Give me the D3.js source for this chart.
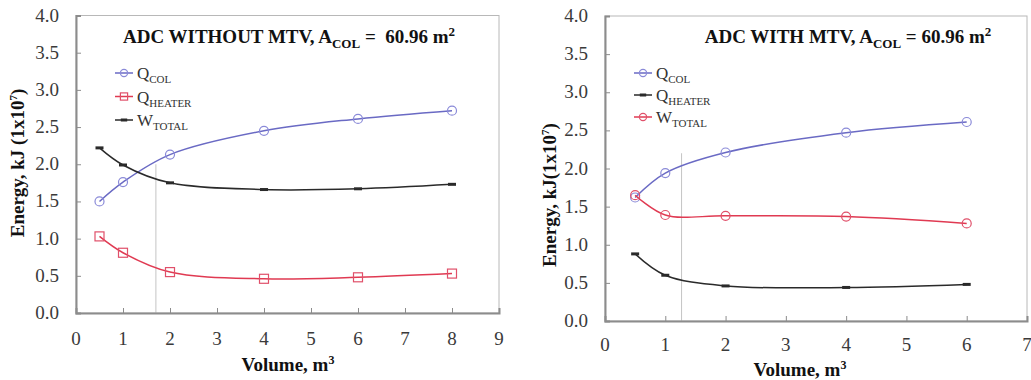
<!DOCTYPE html>
<html>
<head>
<meta charset="utf-8">
<script src="https://cdn.jsdelivr.net/npm/d3@7"></script>
<style>
  html, body { margin: 0; padding: 0; background: #fff; }
  svg { display: block; }
  svg text, svg tspan { font-family: "Liberation Serif", "Times New Roman", serif !important; }
</style>
</head>
<body>
<svg id="chart" width="1031" height="380" font-family="Liberation Serif"></svg>
<script>
// ---- data: panel A (without MTV) ----
const volumeA = [0.5, 1, 2, 4, 6, 8];
const qColA = [1.50, 1.76, 2.13, 2.45, 2.61, 2.72];
const qHeaterA = [1.03, 0.81, 0.55, 0.46, 0.48, 0.53];
const wTotalA = [2.22, 1.99, 1.75, 1.66, 1.67, 1.73];
const xTicksA = [0, 1, 2, 3, 4, 5, 6, 7, 8, 9];

// ---- data: panel B (with MTV) ----
const volumeB = [0.5, 1, 2, 4, 6];
const qColB = [1.62, 1.94, 2.21, 2.47, 2.61];
const qHeaterB = [0.88, 0.60, 0.46, 0.44, 0.48];
const wTotalB = [1.65, 1.39, 1.38, 1.37, 1.28];
const xTicksB = [0, 1, 2, 3, 4, 5, 6, 7];

const yTicks = [0, 0.5, 1.0, 1.5, 2.0, 2.5, 3.0, 3.5, 4.0];

const FONT = '"Liberation Serif"';
const BLUE = "#6a6ac4", BLUE_M = "#8a8ad8";
const RED = "#e03a52", RED_M = "#e0506a";
const BLACK = "#2a2a2a";
const AXIS = "#8c8c8c";
const TICKTXT = "#3a3a3a";

const svg = d3.select("#chart");

function label(sel) {
  return sel.append("text").style("font-family", FONT, "important");
}

function drawPanel(cfg) {
  const x = d3.scaleLinear().domain([0, cfg.xMax]).range([cfg.left, cfg.right]);
  const y = d3.scaleLinear().domain([0, 4]).range([cfg.bottom, cfg.top]);
  const g = svg.append("g");

  // frame
  g.append("rect")
    .attr("x", cfg.left).attr("y", cfg.top)
    .attr("width", cfg.right - cfg.left).attr("height", cfg.bottom - cfg.top)
    .attr("fill", "none").attr("stroke", "#b8b8b8").attr("stroke-width", 1);

  // reference line
  g.append("line")
    .attr("x1", x(cfg.refX)).attr("x2", x(cfg.refX))
    .attr("y1", y(cfg.refTop)).attr("y2", cfg.bottom)
    .attr("stroke", "#c4c4c4").attr("stroke-width", 1);

  // axes with inward ticks
  const yAxis = d3.axisRight(y).tickValues(yTicks).tickSize(5).tickFormat("");
  g.append("g").attr("transform", `translate(${cfg.left},0)`).call(yAxis)
    .call(s => { s.select(".domain").attr("stroke", AXIS).attr("stroke-width", 2);
                 s.selectAll(".tick line").attr("stroke", AXIS); });
  const xAxis = d3.axisTop(x).tickValues(cfg.xTicks).tickSize(5).tickFormat("");
  g.append("g").attr("transform", `translate(0,${cfg.bottom})`).call(xAxis)
    .call(s => { s.select(".domain").attr("stroke", AXIS).attr("stroke-width", 2);
                 s.selectAll(".tick line").attr("stroke", AXIS); });

  // tick labels
  g.selectAll(".ylab").data(yTicks).join("text")
    .style("font-family", FONT, "important")
    .attr("x", cfg.left - 17).attr("y", d => y(d) + 6)
    .attr("text-anchor", "end").attr("font-size", 19).attr("fill", TICKTXT)
    .text(d => d.toFixed(1));
  g.selectAll(".xlab").data(cfg.xTicks).join("text")
    .style("font-family", FONT, "important")
    .attr("x", d => x(d)).attr("y", cfg.bottom + cfg.xLabDy)
    .attr("text-anchor", "middle").attr("font-size", 19).attr("fill", TICKTXT)
    .text(d => d);

  // axis titles
  const xt = label(g)
    .attr("x", cfg.xTitleX).attr("y", cfg.xTitleY)
    .attr("text-anchor", "middle").attr("font-size", 19).attr("font-weight", "bold").attr("fill", "#111");
  xt.append("tspan").text("Volume, m");
  xt.append("tspan").attr("dy", -7).attr("font-size", 12).text("3");

  const yt = label(g)
    .attr("transform", `translate(${cfg.yTitleX},${cfg.yTitleY}) rotate(-90)`)
    .attr("text-anchor", "middle").attr("font-size", 19).attr("font-weight", "bold").attr("fill", "#111");
  yt.append("tspan").text(cfg.yTitle);
  yt.append("tspan").attr("dy", -7).attr("font-size", 11).text("7");
  yt.append("tspan").attr("dy", 7).text(")");

  // title
  const tt = label(g)
    .attr("x", cfg.titleX).attr("y", 43)
    .attr("text-anchor", "middle").attr("font-size", 19).attr("font-weight", "bold").attr("fill", "#111")
    .attr("xml:space", "preserve");
  tt.append("tspan").text(cfg.titleMain + "A");
  tt.append("tspan").attr("dy", 5).attr("font-size", 13).text("COL");
  tt.append("tspan").attr("dy", -5).text(cfg.titleEq);
  tt.append("tspan").attr("dy", -7).attr("font-size", 13).text("2");

  const line = d3.line().x(d => x(d[0])).y(d => y(d[1])).curve(d3.curveCatmullRom.alpha(0.5));

  cfg.series.forEach(s => {
    const pts = cfg.vol.map((v, i) => [v, s.values[i]]);
    g.append("path").datum(pts).attr("d", line)
      .attr("fill", "none").attr("stroke", s.color).attr("stroke-width", 1.5);
    drawMarkers(g, pts, s, x, y);
  });

  // legend
  cfg.series.forEach((s, i) => {
    const ly = cfg.legY + i * cfg.legStep;
    g.append("line").attr("x1", cfg.legX).attr("x2", cfg.legX + 18)
      .attr("y1", ly).attr("y2", ly).attr("stroke", s.color).attr("stroke-width", 1.5);
    drawMarkers(g, [[0, 0]], s, () => cfg.legX + 9, () => ly, true);
    const t = label(g).attr("x", cfg.legX + 22).attr("y", ly + 6)
      .attr("font-size", 17).attr("fill", "#333");
    t.append("tspan").text(s.name);
    t.append("tspan").attr("dy", 4).attr("font-size", 11).text(s.sub);
  });
}

function drawMarkers(g, pts, s, x, y, small) {
  const k = small ? 0.8 : 1;
  pts.forEach(p => {
    const cx = x(p[0]), cy = y(p[1]);
    if (s.marker === "circle") {
      g.append("circle").attr("cx", cx).attr("cy", cy).attr("r", 4.5 * k)
        .attr("fill", "none").attr("stroke", s.mcolor).attr("stroke-width", 1.2);
    } else if (s.marker === "square") {
      g.append("rect").attr("x", cx - 4.5 * k).attr("y", cy - 4.5 * k)
        .attr("width", 9 * k).attr("height", 9 * k)
        .attr("fill", "none").attr("stroke", s.mcolor).attr("stroke-width", 1.2);
    } else {
      g.append("line").attr("x1", cx - 4 * k).attr("x2", cx + 4 * k)
        .attr("y1", cy).attr("y2", cy).attr("stroke", s.mcolor).attr("stroke-width", 3);
    }
  });
}

drawPanel({
  left: 76, right: 499, top: 15.5, bottom: 313, xMax: 9, xTicks: xTicksA,
  xLabDy: 32, refX: 1.7, refTop: 2.0,
  xTitleX: 288, xTitleY: 371,
  yTitleX: 24, yTitleY: 163, yTitle: "Energy, kJ (1x10",
  titleX: 289, titleMain: "ADC WITHOUT MTV, ", titleEq: " =  60.96 m",
  vol: volumeA,
  legX: 115, legY: 73, legStep: 23.5,
  series: [
    { name: "Q", sub: "COL", values: qColA, color: BLUE, mcolor: BLUE_M, marker: "circle" },
    { name: "Q", sub: "HEATER", values: qHeaterA, color: RED, mcolor: RED_M, marker: "square" },
    { name: "W", sub: "TOTAL", values: wTotalA, color: BLACK, mcolor: BLACK, marker: "dash" }
  ]
});

drawPanel({
  left: 605, right: 1027, top: 16, bottom: 321, xMax: 7, xTicks: xTicksB,
  xLabDy: 30, refX: 1.27, refTop: 2.2,
  xTitleX: 800, xTitleY: 376,
  yTitleX: 556, yTitleY: 195, yTitle: "Energy, kJ(1x10",
  titleX: 848, titleMain: "ADC WITH MTV, ", titleEq: " = 60.96 m",
  vol: volumeB,
  legX: 634, legY: 73, legStep: 22,
  series: [
    { name: "Q", sub: "COL", values: qColB, color: BLUE, mcolor: BLUE_M, marker: "circle" },
    { name: "Q", sub: "HEATER", values: qHeaterB, color: BLACK, mcolor: BLACK, marker: "dash" },
    { name: "W", sub: "TOTAL", values: wTotalB, color: RED, mcolor: RED_M, marker: "circle" }
  ]
});
</script>
</body>
</html>
